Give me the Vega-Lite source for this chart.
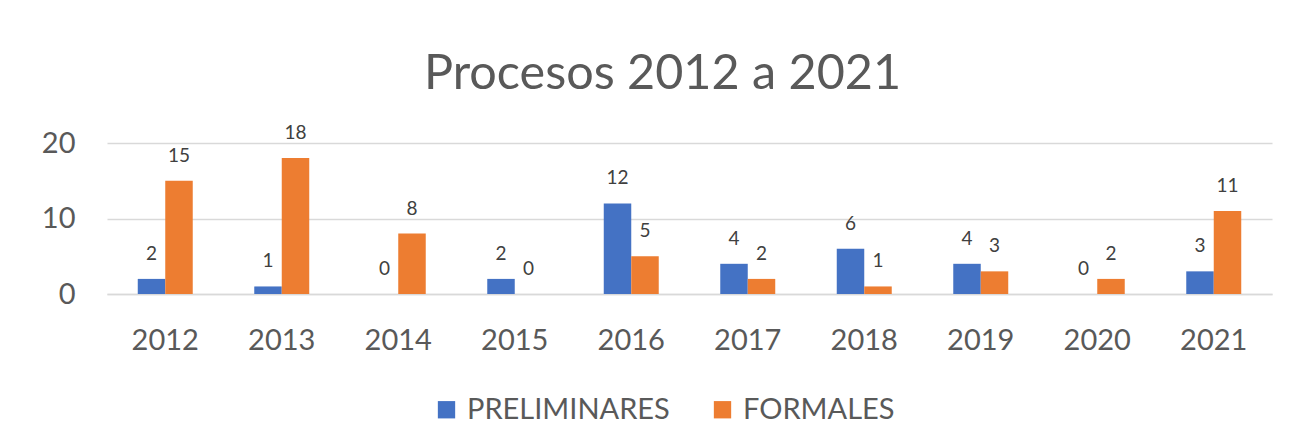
{
  "$schema": "https://vega.github.io/schema/vega-lite/v6.json",
  "autosize": "none",
  "width": 1165,
  "height": 151,
  "padding": {"left": 107, "top": 143, "right": 22, "bottom": 154},
  "background": "white",
  "config": {
    "view": {"stroke": null},
    "font": "Lato"
  },
  "title": {
    "text": "Procesos 2012 a 2021",
    "font": "Lato",
    "fontSize": 48.5,
    "fontWeight": "normal",
    "color": "#595959",
    "anchor": "middle",
    "frame": "group",
    "baseline": "alphabetic",
    "offset": 54,
    "dy": 67,
    "dx": -27
  },
  "data": {
    "values": [
      {"year": "2012", "serie": "PRELIMINARES", "value": 2},
      {"year": "2012", "serie": "FORMALES", "value": 15},
      {"year": "2013", "serie": "PRELIMINARES", "value": 1},
      {"year": "2013", "serie": "FORMALES", "value": 18},
      {"year": "2014", "serie": "PRELIMINARES", "value": 0},
      {"year": "2014", "serie": "FORMALES", "value": 8},
      {"year": "2015", "serie": "PRELIMINARES", "value": 2},
      {"year": "2015", "serie": "FORMALES", "value": 0},
      {"year": "2016", "serie": "PRELIMINARES", "value": 12},
      {"year": "2016", "serie": "FORMALES", "value": 5},
      {"year": "2017", "serie": "PRELIMINARES", "value": 4},
      {"year": "2017", "serie": "FORMALES", "value": 2},
      {"year": "2018", "serie": "PRELIMINARES", "value": 6},
      {"year": "2018", "serie": "FORMALES", "value": 1},
      {"year": "2019", "serie": "PRELIMINARES", "value": 4},
      {"year": "2019", "serie": "FORMALES", "value": 3},
      {"year": "2020", "serie": "PRELIMINARES", "value": 0},
      {"year": "2020", "serie": "FORMALES", "value": 2},
      {"year": "2021", "serie": "PRELIMINARES", "value": 3},
      {"year": "2021", "serie": "FORMALES", "value": 11}
    ]
  },
  "encoding": {
    "x": {
      "field": "year",
      "type": "nominal",
      "scale": {"paddingInner": 0.528, "paddingOuter": 0.264},
      "axis": {
        "title": null,
        "labelAngle": 0,
        "labelFont": "Lato",
        "labelFontSize": 29,
        "labelColor": "#595959",
        "labelPadding": 32,
        "ticks": false,
        "domain": true,
        "domainColor": "#D9D9D9",
        "domainWidth": 1.5
      }
    },
    "xOffset": {
      "field": "serie",
      "type": "nominal",
      "sort": ["PRELIMINARES", "FORMALES"],
      "scale": {"paddingInner": 0, "paddingOuter": 0}
    },
    "y": {
      "field": "value",
      "type": "quantitative",
      "scale": {"domain": [0, 20], "nice": false},
      "axis": {
        "title": null,
        "values": [0, 10, 20],
        "labelFont": "Lato",
        "labelFontSize": 29,
        "labelColor": "#595959",
        "labelPadding": 32,
        "ticks": false,
        "domain": false,
        "gridColor": "#D9D9D9",
        "gridWidth": 1.5
      }
    }
  },
  "layer": [
    {
      "mark": {"type": "bar"},
      "encoding": {
        "color": {
          "field": "serie",
          "type": "nominal",
          "sort": ["PRELIMINARES", "FORMALES"],
          "scale": {"domain": ["PRELIMINARES", "FORMALES"], "range": ["#4472C4", "#ED7D31"]},
          "legend": {
            "title": null,
            "orient": "none",
            "direction": "horizontal",
            "legendX": 325,
            "legendY": 252,
            "symbolType": "square",
            "symbolSize": 300,
            "symbolStrokeWidth": 0,
            "labelFont": "Lato",
            "labelFontSize": 29,
            "labelColor": "#595959",
            "labelOffset": 6,
            "labelLimit": 500,
            "columnPadding": 38
          }
        }
      }
    },
    {
      "mark": {
        "type": "text",
        "baseline": "alphabetic",
        "dy": -19,
        "font": "Lato",
        "fontSize": 19,
        "color": "#404040"
      },
      "encoding": {
        "text": {"field": "value", "type": "quantitative"}
      }
    }
  ]
}
